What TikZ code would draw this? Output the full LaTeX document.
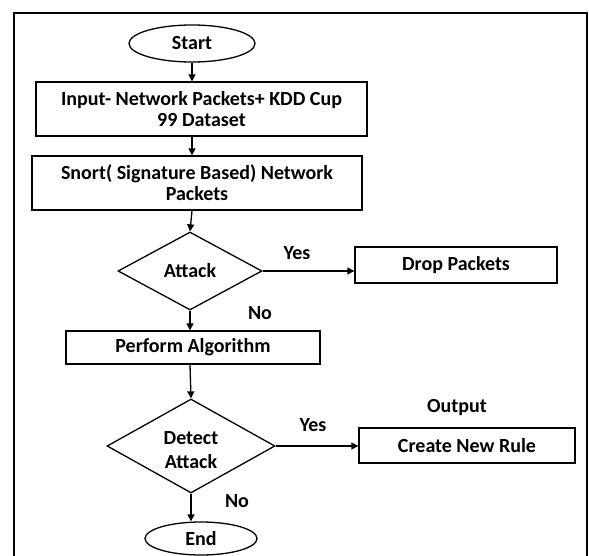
\documentclass[tikz,border=0pt]{standalone}
\usepackage{fontspec}
\setmainfont{Carlito}
\usetikzlibrary{shapes.geometric,arrows.meta}
\begin{document}
\begin{tikzpicture}[x=1pt,y=-1pt,
  every node/.style={font=\fontsize{20}{21}\selectfont\bfseries},
  box/.style={draw,line width=1.3pt,inner sep=0pt,align=center},
  oval/.style={draw,ellipse,line width=1.3pt,inner sep=0pt},
  dec/.style={draw,diamond,line width=1.3pt,inner sep=0pt,align=center},
  lbl/.style={inner sep=0pt,align=center},
  arr/.style={line width=1.3pt,-{Triangle[length=7pt,width=7pt]}}]
\useasboundingbox (0,0) rectangle (589,556);
\draw[line width=1.8pt] (14,556) -- (14,13) -- (587,13) -- (587,556);
\node[oval,minimum width=126pt,minimum height=37pt] (start) at (192,43.5) {Start};
\node[box,minimum width=331pt,minimum height=54pt] (input) at (201.5,109) {Input- Network Packets+ KDD Cup\\99 Dataset};
\node[box,minimum width=330pt,minimum height=54pt] (snort) at (197,183) {Snort( Signature Based) Network\\Packets};
\node[dec,minimum width=144pt,minimum height=78pt] (attack) at (190,271) {Attack};
\node[box,minimum width=202pt,minimum height=36pt] (drop) at (456,265) {Drop Packets};
\node[box,minimum width=254pt,minimum height=33pt] (perform) at (193,347.5) {Perform Algorithm};
\node[dec,minimum width=168pt,minimum height=94pt] (detect) at (191,446) {};
\node[lbl] (detecttxt) at (191,450) {Detect\\[3pt]Attack};
\node[box,minimum width=216pt,minimum height=35pt] (rule) at (467,445.5) {Create New Rule};
\node[oval,minimum width=112pt,minimum height=33pt] (end) at (201,538.5) {End};
\node[lbl] (yes1) at (297,253) {Yes};
\node[lbl] (no1) at (260,313) {No};
\node[lbl] (yes2) at (313,425) {Yes};
\node[lbl] (output) at (457,408) {Output};
\node[lbl] (no2) at (237,501) {No};
\draw[arr] (start.south) -- (start.south |- input.north);
\draw[arr] (start.south |- input.south) -- (start.south |- snort.north);
\draw[arr] (start.south |- snort.south) -- (attack.north);
\draw[arr] (attack.east) -- (drop.west |- attack.east);
\draw[arr] (attack.south) -- (attack.south |- perform.north);
\draw[arr] (attack.south |- perform.south) -- (detect.north);
\draw[arr] (detect.east) -- (rule.west |- detect.east);
\draw[arr] (detect.south) -- (detect.south |- end.north);
\end{tikzpicture}
\end{document}
